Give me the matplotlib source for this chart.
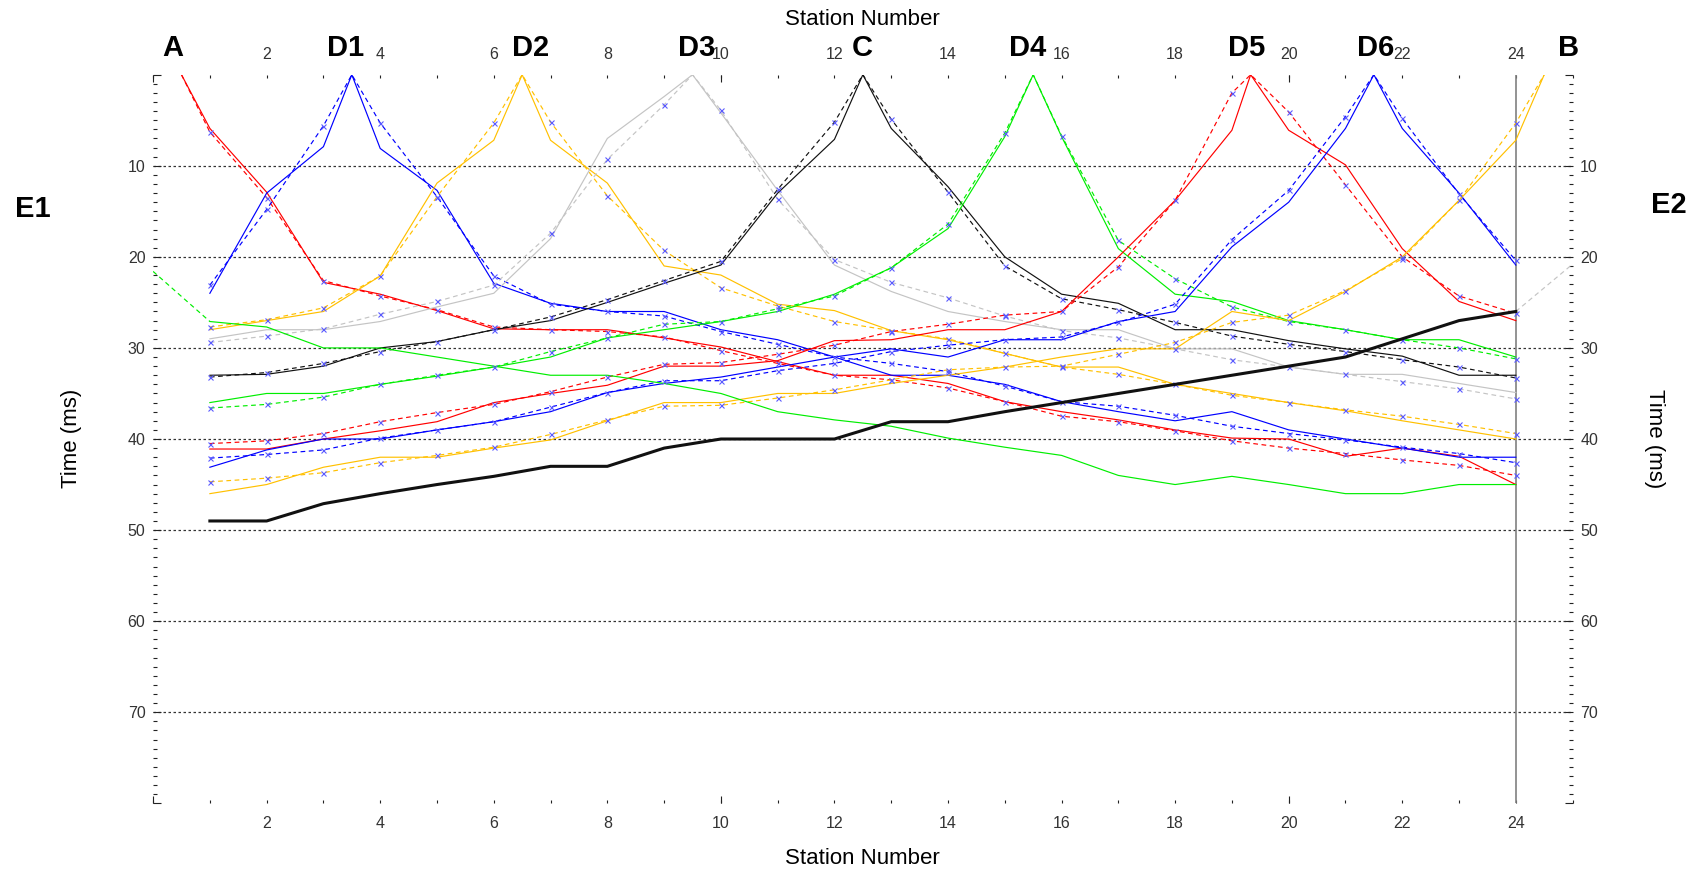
import numpy as np
import matplotlib
matplotlib.use("Agg")
import matplotlib.pyplot as plt
from matplotlib.ticker import FixedLocator, FuncFormatter

plt.rcParams['font.family'] = ['Liberation Sans', 'DejaVu Sans']

# ---------------- data ----------------
stations = np.arange(1, 25)

# shot positions (station units)
shot_A, shot_D1, shot_D2, shot_D3, shot_C = 0.5, 3.5, 6.5, 9.5, 12.5
shot_D4, shot_D5, shot_D6, shot_B = 15.5, 19.33, 21.5, 24.5

A_obs = [5.9, 12.9, 22.8, 24.1, 25.9, 27.9, 28.0, 28.0, 28.9, 29.9, 31.5, 33.0,
         33.0, 33.9, 35.9, 37.0, 37.9, 39.0, 39.9, 40.0, 41.9, 41.0, 41.9, 45.0]
A_calc = [6.3, 13.5, 22.6, 24.3, 25.8, 27.7, 28.0, 28.2, 28.8, 30.3, 31.7, 33.0,
          33.5, 34.4, 35.9, 37.5, 38.1, 39.1, 40.2, 41.0, 41.6, 42.3, 42.9, 44.0]

D1_obs = [24.0, 13.0, 7.9, 8.1, 12.7, 22.9, 25.1, 26.0, 26.0, 28.0, 29.1, 31.0,
          33.0, 33.0, 34.0, 35.9, 37.0, 38.0, 37.0, 39.0, 40.0, 41.0, 42.0, 42.0]
D1_calc = [23.1, 14.8, 5.6, 5.3, 13.4, 22.1, 25.2, 26.0, 26.5, 28.2, 29.6, 31.0,
           31.7, 32.6, 34.2, 35.9, 36.4, 37.4, 38.6, 39.4, 40.1, 40.9, 41.6, 42.6]

D2_obs = [28.0, 27.0, 26.0, 22.1, 11.9, 7.2, 7.2, 11.9, 21.0, 22.0, 25.2, 25.9,
          28.1, 29.1, 30.6, 32.1, 32.1, 34.0, 35.0, 36.0, 36.9, 38.0, 39.0, 40.0]
D2_calc = [27.7, 26.9, 25.6, 22.1, 13.4, 5.3, 5.2, 13.3, 19.3, 23.4, 25.4, 27.1,
           28.1, 29.0, 30.6, 32.1, 32.9, 34.0, 35.2, 36.0, 36.8, 37.5, 38.4, 39.4]

D3_obs = [29.0, 28.0, 28.0, 27.1, 25.5, 24.0, 18.0, 7.0, 2.4, 4.2, 12.7, 20.9,
          23.8, 26.0, 27.1, 28.0, 28.0, 30.1, 30.1, 32.1, 32.9, 32.9, 33.9, 34.9]
D3_calc = [29.4, 28.7, 27.9, 26.3, 24.9, 23.1, 17.4, 9.3, 3.3, 3.9, 13.7, 20.3,
           22.8, 24.5, 26.5, 28.1, 28.9, 30.1, 31.3, 32.1, 32.9, 33.7, 34.5, 35.6]

C_obs = [33.0, 32.9, 32.0, 30.0, 29.3, 28.0, 27.0, 25.0, 22.9, 20.9, 13.0, 7.1,
         5.9, 12.3, 20.0, 24.1, 25.1, 28.0, 28.0, 29.2, 30.1, 30.9, 33.0, 33.0]
C_calc = [33.2, 32.7, 31.7, 30.4, 29.3, 28.0, 26.6, 24.7, 22.6, 20.5, 12.6, 5.2,
          4.9, 12.9, 21.0, 24.6, 25.8, 27.2, 28.7, 29.6, 30.4, 31.3, 32.1, 33.3]

D4_obs = [36.0, 35.0, 35.0, 34.0, 33.1, 32.1, 31.0, 28.9, 28.0, 27.1, 26.0, 24.1,
          21.2, 16.9, 6.8, 6.8, 19.1, 24.1, 24.9, 27.0, 28.0, 29.1, 29.1, 31.0]
D4_calc = [36.6, 36.2, 35.4, 34.0, 33.0, 32.1, 30.4, 28.9, 27.4, 27.1, 25.7, 24.3,
           21.2, 16.4, 6.4, 6.7, 18.2, 22.4, 25.5, 27.1, 28.0, 29.1, 30.0, 31.2]

D5_obs = [41.1, 41.1, 40.0, 39.1, 38.1, 36.0, 35.0, 34.1, 32.0, 32.0, 31.4, 29.2,
          29.1, 28.0, 28.0, 26.0, 20.0, 13.8, 6.1, 6.1, 9.9, 19.1, 24.9, 27.0]
D5_calc = [40.5, 40.2, 39.4, 38.1, 37.1, 36.2, 34.8, 33.2, 31.8, 31.6, 30.7, 29.7,
           28.2, 27.4, 26.4, 26.0, 21.1, 13.8, 2.0, 4.1, 12.1, 20.0, 24.3, 26.2]

D6_obs = [43.1, 41.2, 40.0, 40.0, 39.0, 38.1, 37.0, 34.9, 33.9, 33.2, 32.1, 31.0,
          30.1, 31.0, 29.1, 29.1, 27.1, 26.0, 18.9, 14.0, 5.9, 5.9, 13.0, 20.9]
D6_calc = [42.1, 41.7, 41.2, 39.9, 39.0, 38.1, 36.5, 34.9, 33.6, 33.6, 32.5, 31.7,
           30.4, 29.7, 29.1, 28.8, 27.2, 25.2, 18.1, 12.7, 4.6, 4.8, 13.1, 20.4]

B_obs = [46.0, 45.0, 43.1, 42.0, 42.0, 41.0, 40.1, 38.0, 36.0, 36.0, 35.0, 35.0,
         33.9, 33.0, 32.1, 31.0, 30.1, 30.1, 26.0, 27.0, 23.8, 20.0, 13.8, 7.2]
B_calc = [44.7, 44.3, 43.7, 42.6, 41.8, 40.9, 39.5, 37.9, 36.4, 36.3, 35.5, 34.6,
          33.5, 32.4, 32.1, 32.0, 30.7, 29.4, 27.2, 26.4, 23.7, 20.2, 13.8, 5.3]

E1_obs = [27.1, 27.7, 30.0, 30.0, 31.0, 32.0, 33.0, 33.0, 33.9, 35.0, 37.0, 37.9,
          38.6, 39.9, 40.9, 41.8, 44.0, 45.0, 44.1, 45.0, 46.0, 46.0, 45.0, 45.0]
E1_calc_x = [0, 1]
E1_calc = [21.6, 27.1]

E2_obs = [49.0, 49.0, 47.1, 46.0, 45.0, 44.1, 43.0, 43.0, 41.0, 40.0, 40.0, 40.0,
          38.1, 38.1, 37.0, 36.0, 35.0, 34.0, 33.0, 32.0, 31.0, 29.0, 27.0, 26.0]
E2_calc_x = [24, 25]
E2_calc = [26.0, 20.8]

grid_levels = [10, 20, 30, 40, 50, 60, 70]
x_label_ticks = list(range(2, 25, 2))
y_label_ticks = list(range(10, 71, 10))

shot_labels = ['A', 'D1', 'D2', 'D3', 'C', 'D4', 'D5', 'D6', 'B']
shot_label_x = [0.1016, 0.2033, 0.3120, 0.4093, 0.5065, 0.6038, 0.7325, 0.8082, 0.9215]

# ---------------- figure ----------------
RED, BLUE, ORANGE, GRAY, BLACK, GREEN = '#ff0000', '#0000ff', '#ffc000', '#c4c4c4', '#111111', '#00ee00'
MARK = '#5a5aff'

fig = plt.figure(figsize=(17.02, 8.72), dpi=100)
ax = fig.add_axes([0.08995, 0.07878, 0.92397 - 0.08995, 0.91433 - 0.07878])
ax.set_xlim(0, 25)
ax.set_ylim(80, 0)
for s in ax.spines.values():
    s.set_visible(False)

for lvl in grid_levels:
    ax.axhline(lvl, color='#333333', lw=0.9, ls=(0, (2, 2)), zorder=1)

ax.axvline(24, color='#808080', lw=1.2, zorder=2)

shots = [
    (shot_A, A_obs, A_calc, RED),
    (shot_D1, D1_obs, D1_calc, BLUE),
    (shot_D2, D2_obs, D2_calc, ORANGE),
    (shot_D3, D3_obs, D3_calc, GRAY),
    (shot_C, C_obs, C_calc, BLACK),
    (shot_D4, D4_obs, D4_calc, GREEN),
    (shot_D5, D5_obs, D5_calc, RED),
    (shot_D6, D6_obs, D6_calc, BLUE),
    (shot_B, B_obs, B_calc, ORANGE),
]

for pos, obs, calc, col in shots:
    idx = int(np.searchsorted(stations, pos))
    xs = np.insert(stations.astype(float), idx, pos)
    yo = np.insert(np.array(obs, float), idx, 0.0)
    yc = np.insert(np.array(calc, float), idx, 0.0)
    ax.plot(xs, yo, color=col, lw=0.85, zorder=3)
    ax.plot(xs, yc, color=col, lw=0.85, ls=(0, (4, 3)), zorder=3)
    ax.plot(stations, calc, ls='none', marker='x', ms=3.6, mew=0.8, color=MARK, zorder=4)

ax.plot(stations, E1_obs, color=GREEN, lw=0.85, zorder=3)
ax.plot(E1_calc_x, E1_calc, color=GREEN, lw=0.85, ls=(0, (4, 3)), zorder=3)
ax.plot(stations, E2_obs, color=BLACK, lw=2.2, zorder=5)
ax.plot(E2_calc_x, E2_calc, color=GRAY, lw=0.85, ls=(0, (4, 3)), zorder=3)

# ---------------- ticks ----------------
ax.xaxis.set_major_locator(FixedLocator([0, 10, 20]))
ax.xaxis.set_minor_locator(FixedLocator(list(range(0, 26))))
ax.xaxis.remove_overlapping_locs = False
ax.xaxis.set_major_formatter(FuncFormatter(lambda v, p: ''))
ax.xaxis.set_minor_formatter(FuncFormatter(lambda v, p: f'{int(round(v))}' if int(round(v)) in x_label_ticks else ''))

ax.yaxis.set_major_locator(FixedLocator(list(range(0, 81, 10))))
ax.yaxis.set_minor_locator(FixedLocator(list(range(0, 81))))
ax.yaxis.set_major_formatter(FuncFormatter(lambda v, p: f'{int(round(v))}' if int(round(v)) in y_label_ticks else ''))
ax.yaxis.set_minor_formatter(FuncFormatter(lambda v, p: ''))

ax.tick_params(axis='both', which='both', direction='in', top=True, bottom=True,
               left=True, right=True, colors='#222222', width=0.8,
               labelsize=11.5, labelcolor='#333333')
ax.tick_params(axis='x', which='both', labeltop=True, labelbottom=True)
ax.tick_params(axis='y', which='both', labelleft=True, labelright=True)
ax.tick_params(axis='x', which='major', length=5.3, pad=9.5)
ax.tick_params(axis='x', which='minor', length=2.4, pad=9.5)
ax.tick_params(axis='y', which='major', length=5.5, pad=5.5)
ax.tick_params(axis='y', which='minor', length=2.7, pad=5.5)

# ---------------- texts ----------------
fig.text(0.5068, 0.9779, 'Station Number', ha='center', va='center', fontsize=16)
fig.text(0.5068, 0.0152, 'Station Number', ha='center', va='center', fontsize=16)
fig.text(0.0420, 0.4969, 'Time (ms)', ha='center', va='center', fontsize=16, rotation=90)
fig.text(0.9718, 0.4969, 'Time (ms)', ha='center', va='center', fontsize=16, rotation=-90)

for lab, xf in zip(shot_labels, shot_label_x):
    fig.text(xf, 0.9446, lab, ha='center', va='center', fontsize=21, fontweight='bold')
fig.text(0.0191, 0.7600, 'E1', ha='center', va='center', fontsize=21, fontweight='bold')
fig.text(0.9806, 0.7649, 'E2', ha='center', va='center', fontsize=21, fontweight='bold')

fig.savefig('out.png', dpi=100)
